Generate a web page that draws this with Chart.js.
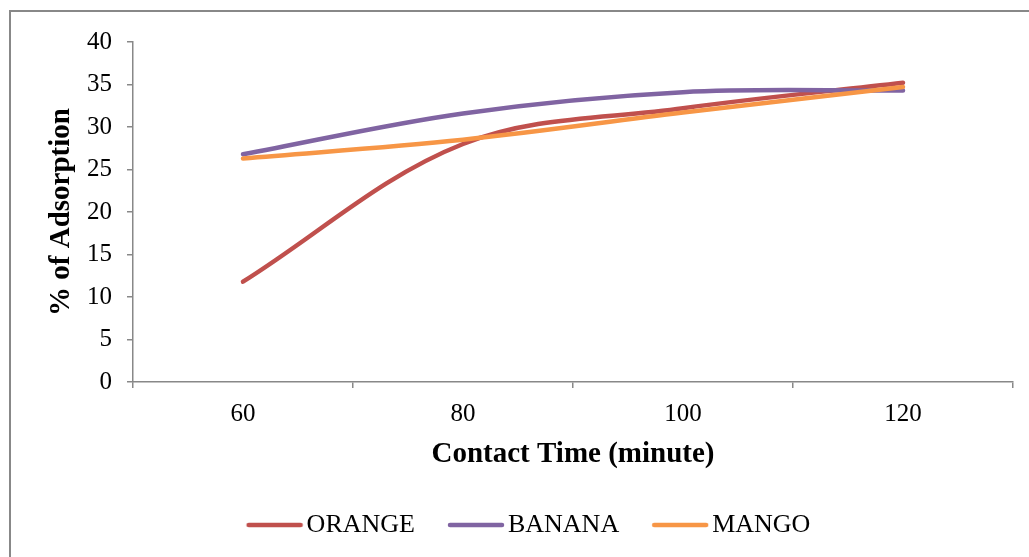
<!DOCTYPE html>
<html>
<head>
<meta charset="utf-8">
<script src="https://cdn.jsdelivr.net/npm/chart.js@4/dist/chart.umd.min.js"></script>
<style>
    html, body { margin: 0; padding: 0; background: #fff; overflow: hidden; }
    #frame {
        position: absolute; left: 9px; top: 10px;
        border-left: 2px solid #888; border-top: 2px solid #888;
        width: 1036px; height: 560px;
    }
    canvas { display: block; }
</style>
</head>
<body>
<div id="frame"><canvas id="adsorptionChart" width="1036" height="560"></canvas></div>
<script>
    // contact time (minute)
    const contactTimes = ['60', '80', '100', '120'];
    // % of adsorption
    const orange = [11.8, 28.0, 32.2, 35.2];
    const banana = [26.8, 31.6, 34.1, 34.3];
    const mango = [26.3, 28.5, 31.7, 34.7];
    const yTicks = [0, 5, 10, 15, 20, 25, 30, 35, 40];

    const serif = "'Liberation Serif', 'Times New Roman', serif";
    const axisGrey = '#888';

    // legend swatch: a short thick line, shifted right so the label sits close to it
    function legendLine(color) {
        const c = document.createElement('canvas');
        c.width = 66;
        c.height = 10;
        const g = c.getContext('2d');
        g.strokeStyle = color;
        g.lineWidth = 4.5;
        g.lineCap = 'round';
        g.beginPath();
        g.moveTo(11, 5);
        g.lineTo(63, 5);
        g.stroke();
        return c;
    }

    function lineSet(label, values, color, order) {
        return {
            label: label,
            data: values,
            borderColor: color,
            backgroundColor: color,
            borderWidth: 4.5,
            borderCapStyle: 'round',
            borderJoinStyle: 'round',
            pointRadius: 0,
            pointStyle: legendLine(color),
            tension: 0.35,
            fill: false,
            order: order
        };
    }

    const ctx = document.getElementById('adsorptionChart').getContext('2d');
    new Chart(ctx, {
        type: 'line',
        data: {
            labels: contactTimes,
            datasets: [
                lineSet('ORANGE', orange, '#C0504D', 3),
                lineSet('BANANA', banana, '#8064A2', 2),
                lineSet('MANGO', mango, '#F79646', 1)
            ]
        },
        options: {
            responsive: false,
            animation: false,
            layout: { padding: { top: 29, right: 0, bottom: 24, left: 0 } },
            plugins: {
                tooltip: { enabled: false },
                legend: {
                    position: 'bottom',
                    labels: {
                        usePointStyle: true,
                        pointStyleWidth: 46,
                        padding: 34,
                        color: '#000',
                        font: { family: serif, size: 26 },
                        sort: (a, b) => a.datasetIndex - b.datasetIndex
                    }
                }
            },
            scales: {
                x: {
                    offset: true,
                    grid: {
                        offset: true,
                        drawOnChartArea: false,
                        tickLength: 6,
                        color: axisGrey,
                        lineWidth: 1.5
                    },
                    border: { color: axisGrey, width: 1.5 },
                    ticks: { color: '#000', padding: 11, font: { family: serif, size: 25 } },
                    title: {
                        display: true,
                        text: 'Contact Time (minute)',
                        color: '#000',
                        font: { family: serif, size: 29, weight: 'bold' },
                        padding: { top: 0, bottom: 6 }
                    },
                    afterFit: scale => { scale.height = 96; }
                },
                y: {
                    min: 0,
                    max: 40,
                    afterBuildTicks: scale => { scale.ticks = yTicks.map(v => ({ value: v })); },
                    grid: {
                        drawOnChartArea: false,
                        tickLength: 6,
                        color: axisGrey,
                        lineWidth: 1.5
                    },
                    border: { color: axisGrey, width: 1.5 },
                    ticks: { color: '#000', padding: 15, font: { family: serif, size: 25 } },
                    title: {
                        display: true,
                        text: '% of Adsorption',
                        color: '#000',
                        font: { family: serif, size: 29, weight: 'bold' },
                        padding: { top: 33, bottom: 0 }
                    },
                    afterFit: scale => { scale.width = 122; }
                },
                // empty right-hand spacer so the plot ends where the original does
                spacer: {
                    type: 'linear',
                    position: 'right',
                    grid: { display: false },
                    border: { display: false },
                    ticks: { display: false },
                    afterFit: scale => { scale.width = 34; }
                }
            }
        }
    });
</script>
</body>
</html>
